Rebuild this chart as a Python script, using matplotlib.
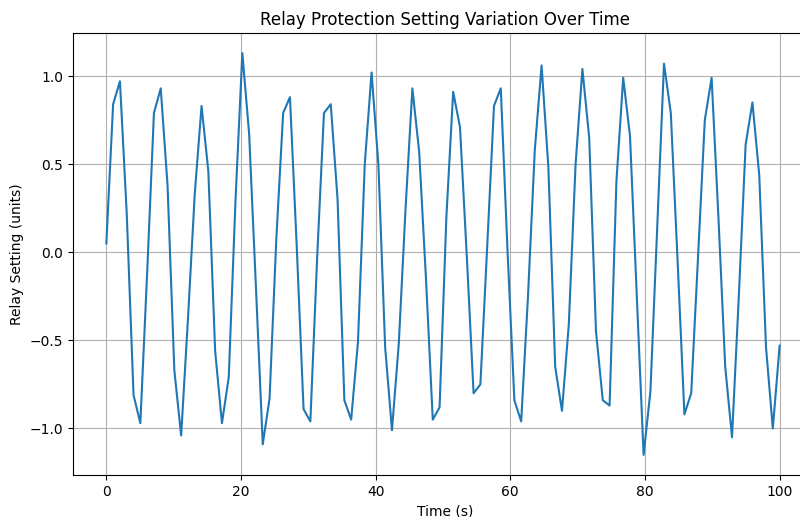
import numpy as np
import matplotlib
matplotlib.use("Agg")
import matplotlib.pyplot as plt

plt.rcParams['font.family'] = ['DejaVu Sans']

# 100 samples from 0 to 100 s
time_s = np.linspace(0, 100, 100)

# relay setting values
relay_setting = [
    0.05, 0.84, 0.97, 0.22, -0.81, -0.97, -0.12, 0.79, 0.93, 0.38,
    -0.67, -1.04, -0.38, 0.33, 0.83, 0.46, -0.56, -0.97, -0.71, 0.30,
    1.13, 0.67, -0.20, -1.09, -0.83, 0.08, 0.79, 0.88, 0.03, -0.89,
    -0.96, -0.03, 0.79, 0.84, 0.30, -0.84, -0.95, -0.51, 0.50, 1.02,
    0.50, -0.54, -1.01, -0.52, 0.25, 0.93, 0.57, -0.15, -0.95, -0.88,
    0.20, 0.91, 0.71, -0.02, -0.80, -0.75, 0.03, 0.83, 0.93, 0.00,
    -0.84, -0.96, -0.25, 0.58, 1.06, 0.48, -0.65, -0.90, -0.41, 0.50,
    1.04, 0.65, -0.45, -0.84, -0.87, 0.40, 0.99, 0.66, -0.25, -1.15,
    -0.79, 0.14, 1.07, 0.79, -0.05, -0.92, -0.80, -0.03, 0.75, 0.99,
    0.20, -0.65, -1.05, -0.25, 0.61, 0.85, 0.44, -0.54, -1.00, -0.53,
]

fig = plt.figure(figsize=(8, 5.17), dpi=100)
# the reference is cropped on the right, so the axes run past the edge
ax = fig.add_axes([73 / 800, 42 / 517, 745 / 800, 442 / 517])

ax.plot(time_s, relay_setting, color='#1f77b4', linewidth=1.5)
ax.set_xlim(-4.95, 105.7)
ax.set_title("Relay Protection Setting Variation Over Time", fontsize=12)
ax.set_xlabel("Time (s)", fontsize=10)
ax.set_ylabel("Relay Setting (units)", fontsize=10)
ax.tick_params(labelsize=10)
ax.set_xticks([0, 20, 40, 60, 80, 100])
ax.set_yticks([-1.0, -0.5, 0.0, 0.5, 1.0])
ax.grid(True)

fig.savefig("out.png", dpi=100)
